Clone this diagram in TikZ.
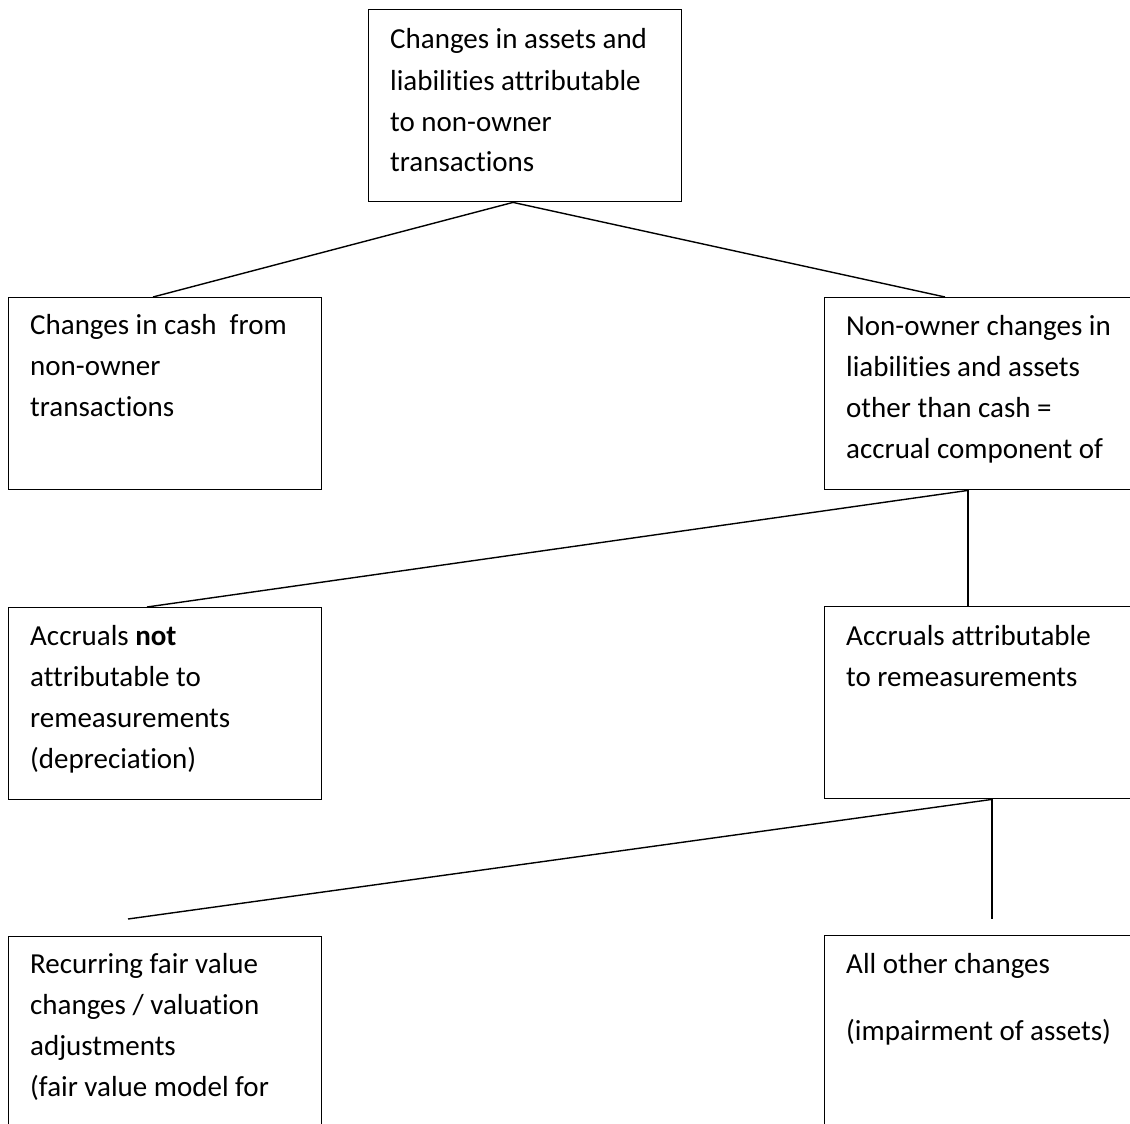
\documentclass[tikz,border=0pt]{standalone}
\usepackage{fontspec}
\setmainfont[Ligatures=NoCommon]{Carlito}
\newcommand{\boxtext}[1]{\fontsize{29}{41}\selectfont\begin{tabular}[t]{@{}l@{}}#1\end{tabular}}
\begin{document}
\begin{tikzpicture}[x=1pt,y=-1pt,
  box/.style={draw,line width=1.4pt,rectangle,inner sep=0pt,anchor=north west},
  lbl/.style={anchor=base west,inner sep=0pt},
  conn/.style={line width=1.4pt}]
\useasboundingbox (0,0) rectangle (1130,1124);
\clip (0,0) rectangle (1130,1124);
\fill[white] (0,0) rectangle (1130,1124);
% boxes
\node[box,minimum width=313pt,minimum height=192pt] (top) at (368,9) {};
\node[box,minimum width=313pt,minimum height=192pt] (b2l) at (8,297) {};
\node[box,minimum width=320pt,minimum height=192pt] (b2r) at (824,297) {};
\node[box,minimum width=313pt,minimum height=192pt] (b3l) at (8,607) {};
\node[box,minimum width=320pt,minimum height=192pt] (b3r) at (824,606) {};
\node[box,minimum width=313pt,minimum height=210pt] (b4l) at (8,936) {};
\node[box,minimum width=320pt,minimum height=210pt] (b4r) at (824,935) {};
% texts
\node[lbl] (t1) at ([shift={(22,40)}]top.north west) {\boxtext{Changes in assets and\\liabilities attributable\\to non-owner\\transactions}};
\node[lbl] (t2) at ([shift={(22,37)}]b2l.north west) {\boxtext{Changes in cash~ from\\non-owner\\transactions}};
\node[lbl] (t3) at ([shift={(22,38)}]b2r.north west) {\boxtext{Non-owner changes in\\liabilities and assets\\other than cash =\\accrual component of}};
\node[lbl] (t4) at ([shift={(22,38)}]b3l.north west) {\boxtext{Accruals \textbf{not}\\attributable to\\remeasurements\\(depreciation)}};
\node[lbl] (t5) at ([shift={(22,39)}]b3r.north west) {\boxtext{Accruals attributable\\to remeasurements}};
\node[lbl] (t6) at ([shift={(22,37)}]b4l.north west) {\boxtext{Recurring fair value\\changes / valuation\\adjustments\\(fair value model for}};
\node[lbl] (t7) at ([shift={(22,38)}]b4r.north west) {\boxtext{All other changes\\[26pt](impairment of assets)}};
% connectors
\coordinate (e1) at (128,919);
\coordinate (e2) at (992,919);
\draw[conn] ([xshift=145pt]top.south west) -- ([xshift=145pt]b2l.north west);
\draw[conn] ([xshift=145pt]top.south west) -- ([xshift=121pt]b2r.north west);
\draw[conn] ([xshift=144pt]b2r.south west) -- ([xshift=139pt]b3l.north west);
\draw[conn] ([xshift=144pt]b2r.south west) -- ([xshift=144pt]b3r.north west);
\draw[conn] ([xshift=168pt]b3r.south west) -- (e1);
\draw[conn] ([xshift=168pt]b3r.south west) -- (e2);
\end{tikzpicture}
\end{document}
